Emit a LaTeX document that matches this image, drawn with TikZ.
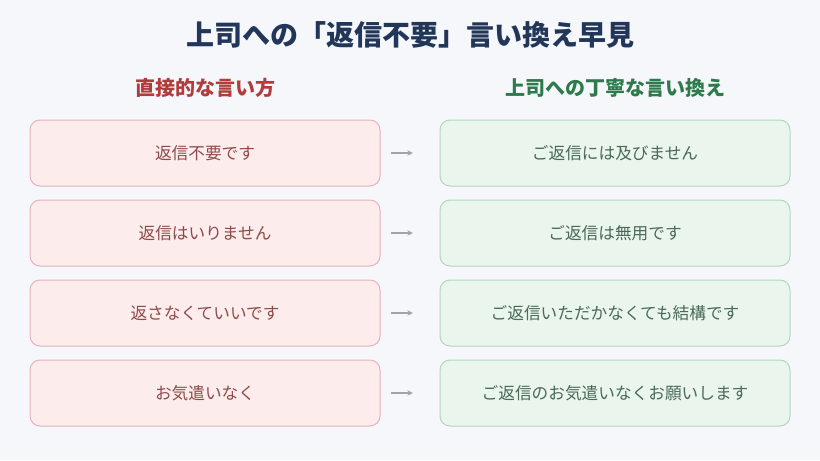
\documentclass[tikz,border=0pt]{standalone}
\usepackage{fontspec}
\setmainfont{Noto Sans CJK JP}
\newfontfamily\cjkb{Noto Sans CJK JP}[BoldFont={* Bold}]
\begin{document}
\begin{tikzpicture}[x=0.75pt,y=-0.75pt,
  bg/.style={fill=bgc,draw=none},
  lbox/.style={draw=lbord,fill=lfill,rounded corners=7.5pt,line width=0.75pt,minimum width=262.5pt,minimum height=49.5pt,text=ltext,font=\fontsize{12.5}{14}\selectfont},
  rbox/.style={draw=rbord,fill=rfill,rounded corners=7.5pt,line width=0.75pt,minimum width=262.5pt,minimum height=49.5pt,text=rtext,font=\fontsize{12.5}{14}\selectfont},
  arr/.style={->,draw=arrc,line width=0.8pt,>=stealth}]
\definecolor{bgc}{HTML}{F6F7FB}
\definecolor{lbord}{HTML}{E5B3B8}
\definecolor{lfill}{HTML}{FDECEC}
\definecolor{ltext}{HTML}{8E4A4A}
\definecolor{rbord}{HTML}{B3D6BF}
\definecolor{rfill}{HTML}{EAF5EE}
\definecolor{rtext}{HTML}{4A6A55}
\definecolor{arrc}{HTML}{A0A4AE}
\definecolor{titc}{HTML}{22365A}
\definecolor{lhead}{HTML}{B03C3C}
\definecolor{rhead}{HTML}{2E7A4C}
\fill[bgc] (0,0) rectangle (820,460);
\useasboundingbox (0,0) rectangle (820,460);
\node[font=\fontsize{21}{24}\selectfont\bfseries,text=titc] (title) at (410,35) {上司への「返信不要」言い換え早見};
\node[font=\fontsize{15}{18}\selectfont\bfseries,text=lhead] (lh) at (205,88) {直接的な言い方};
\node[font=\fontsize{15}{18}\selectfont\bfseries,text=rhead] (rh) at (615,88) {上司への丁寧な言い換え};
\foreach \i/\l/\r in {1/返信不要です/ご返信には及びません,2/返信はいりません/ご返信は無用です,3/返さなくていいです/ご返信いただかなくても結構です,4/お気遣いなく/ご返信のお気遣いなくお願いします}{
  \pgfmathsetmacro{\yy}{153+80*(\i-1)}
  \node[lbox] (l\i) at (205,\yy) {\l};
  \node[rbox] (r\i) at (615,\yy) {\r};
  \draw[arr] ([xshift=7.5pt]l\i.east) -- ([xshift=-20pt]r\i.west);
}
\end{tikzpicture}
\end{document}
